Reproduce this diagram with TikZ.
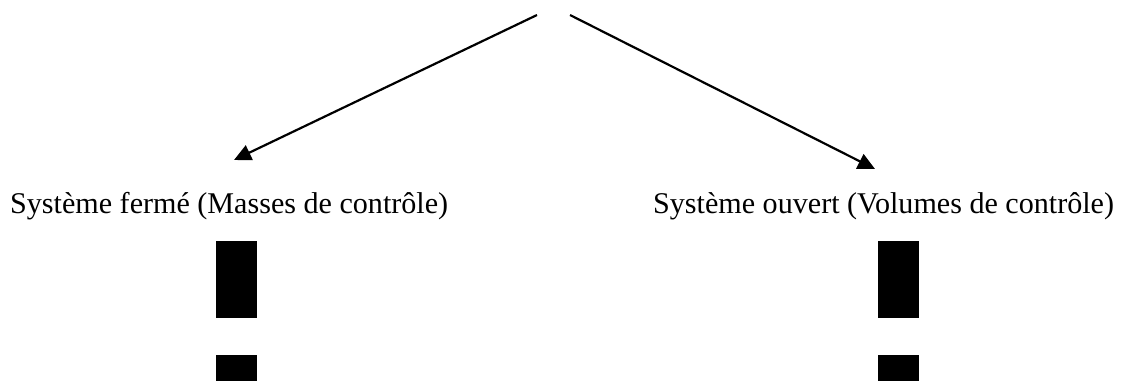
\documentclass[tikz,border=0pt]{standalone}
\usepackage{fontspec}
\setmainfont{Liberation Serif}
\usetikzlibrary{arrows.meta}
\begin{document}
\begin{tikzpicture}[x=1pt,y=-1pt,
  conn/.style={line width=2.2pt,-{Triangle[length=17pt,width=16pt]}},
  label/.style={inner sep=0pt,anchor=base west,font=\fontsize{30.1}{35}\selectfont},
  bar/.style={fill=black,draw=none}]
\clip (0,0) rectangle (1137,380);
\useasboundingbox (0,0) rectangle (1137,380);
\coordinate (srcL) at (537,15);
\coordinate (srcR) at (570,15);
\coordinate (tipL) at (234,160);
\coordinate (tipR) at (875,169);
\draw[conn] (srcL) -- (tipL);
\draw[conn] (srcR) -- (tipR);
\node[label] (ferme) at (10,213) {Système fermé (Masses de contrôle)};
\node[label] (ouvert) at (653,213) {Système ouvert (Volumes de contrôle)};
\fill[bar] (216,241) rectangle (257,318);
\fill[bar] (216,355) rectangle (257,400);
\fill[bar] (878,241) rectangle (919,318);
\fill[bar] (878,355) rectangle (919,400);
\end{tikzpicture}
\end{document}
